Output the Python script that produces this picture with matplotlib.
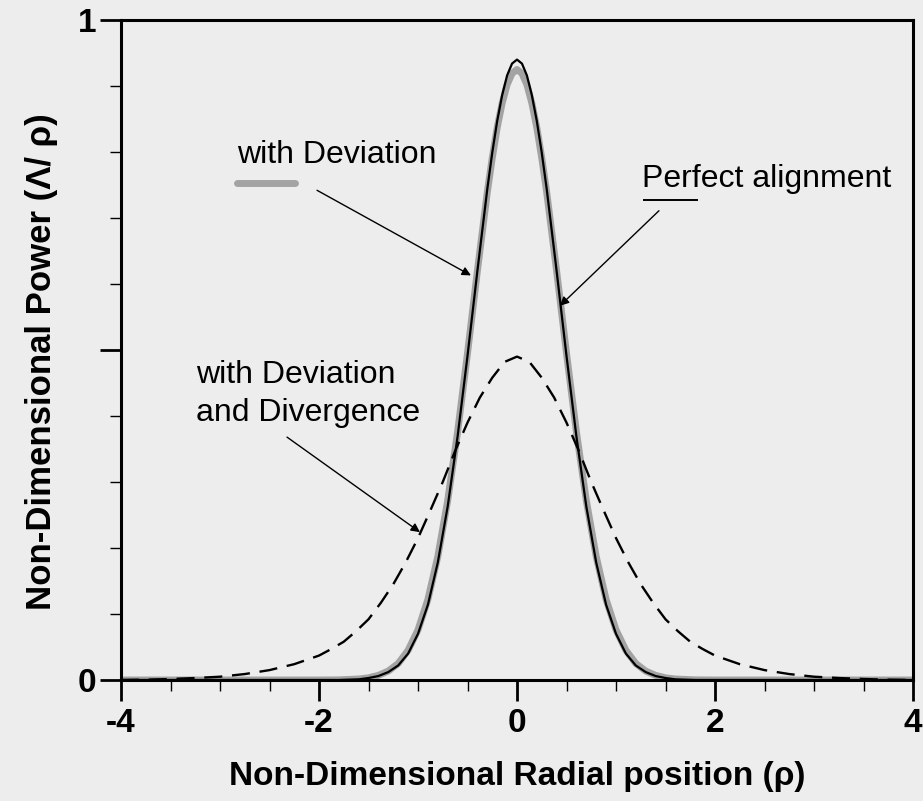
import numpy as np
import matplotlib
matplotlib.use("Agg")
import matplotlib.pyplot as plt
from matplotlib.ticker import MultipleLocator, FixedLocator
from matplotlib.lines import Line2D

plt.rcParams['font.family'] = ['Liberation Sans', 'DejaVu Sans']
plt.rcParams['lines.scale_dashes'] = False

# Half profiles (rho >= 0); the beams are symmetric about rho = 0
rho_half = [0.0, 0.05, 0.1, 0.15, 0.2, 0.25, 0.3, 0.4, 0.5, 0.6, 0.7,
            0.8, 0.9, 1.0, 1.1, 1.2, 1.3, 1.4, 1.5, 1.6, 1.8, 2.0, 3.0, 4.0]
perfect_half = [0.940, 0.934, 0.916, 0.886, 0.847, 0.799, 0.744, 0.620,
                0.491, 0.369, 0.263, 0.178, 0.114, 0.070, 0.040, 0.022,
                0.012, 0.006, 0.003, 0.001, 0.0, 0.0, 0.0, 0.0]
deviation_half = [0.925, 0.919, 0.902, 0.874, 0.837, 0.791, 0.739, 0.620,
                  0.495, 0.376, 0.272, 0.187, 0.122, 0.076, 0.045, 0.025,
                  0.0135, 0.007, 0.0033, 0.0015, 0.0002, 0.0, 0.0, 0.0]

rho_div_half = [0.0, 0.125, 0.25, 0.375, 0.5, 0.625, 0.75, 0.875, 1.0,
                1.125, 1.25, 1.375, 1.5, 1.625, 1.75, 1.875, 2.0, 2.25,
                2.5, 2.75, 3.0, 3.25, 3.5, 3.75, 4.0]
divergence_half = [0.490, 0.482, 0.458, 0.428, 0.390, 0.347, 0.300, 0.257,
                   0.215, 0.178, 0.145, 0.117, 0.092, 0.074, 0.058, 0.047,
                   0.037, 0.024, 0.015, 0.009, 0.005, 0.003, 0.0015,
                   0.0005, 0.0]

x_major = [-4, -2, 0, 2, 4]
x_labels = ['-4', '-2', '0', '2', '4']
y_major = [0, 0.5, 1]
y_labels = ['0', '', '1']


def mirror(xs, ys):
    xs = np.asarray(xs, float)
    ys = np.asarray(ys, float)
    return (np.concatenate([-xs[:0:-1], xs]),
            np.concatenate([ys[:0:-1], ys]))


rho_p, p_perfect = mirror(rho_half, perfect_half)
_, p_dev = mirror(rho_half, deviation_half)
rho_d, p_div = mirror(rho_div_half, divergence_half)

bg = '#ededed'
fig = plt.figure(figsize=(9.23, 8.01), dpi=100, facecolor=bg)
ax = fig.add_axes([121 / 923, 121 / 801, 792 / 923, 660 / 801], facecolor=bg)

ax.plot(rho_p, p_dev, color='#a3a3a3', lw=5.0, solid_capstyle='round',
        solid_joinstyle='round', zorder=2)
ax.plot(rho_p, p_perfect, color='black', lw=1.6, solid_joinstyle='round',
        zorder=3)
ax.plot(rho_d, p_div, color='black', lw=1.7, dashes=(13, 7), zorder=3)

ax.set_xlim(-4, 4)
ax.set_ylim(0, 1)

ax.xaxis.set_major_locator(FixedLocator(x_major))
ax.set_xticklabels(x_labels)
ax.xaxis.set_minor_locator(MultipleLocator(0.5))
ax.yaxis.set_major_locator(FixedLocator(y_major))
ax.set_yticklabels(y_labels)
ax.yaxis.set_minor_locator(MultipleLocator(0.1))

ax.tick_params(which='major', direction='out', length=15, width=2.0,
               labelsize=24, pad=3)
ax.tick_params(which='minor', direction='out', length=8, width=1.0)
ax.tick_params(axis='x', which='major', pad=5)
for lab in ax.get_xticklabels() + ax.get_yticklabels():
    lab.set_fontweight('bold')

for sp in ax.spines.values():
    sp.set_linewidth(2.2)

ax.set_xlabel('Non-Dimensional Radial position (ρ)', fontsize=24,
              fontweight='bold')
ax.xaxis.set_label_coords(0.5, -0.122)
ax.set_ylabel('Non-Dimensional Power (Λ/ ρ)', fontsize=25,
              fontweight='bold')
ax.yaxis.set_label_coords(-0.08, 0.482)

txt = dict(fontsize=23, color='black', va='baseline', ha='left')
arrow = dict(arrowstyle='-|>', lw=1.0, color='black', mutation_scale=13,
             shrinkA=0, shrinkB=0)

# with Deviation
ax.text(-2.828, 0.783, 'with Deviation', **txt)
ax.add_line(Line2D([0.1465, 0.2197], [0.753, 0.753], transform=ax.transAxes,
                   color='#a3a3a3', lw=5.0, solid_capstyle='round'))
ax.annotate('', xy=(-0.465, 0.613), xytext=(-2.02, 0.742), arrowprops=arrow)

# Perfect alignment
ax.text(1.263, 0.747, 'Perfect alignment', **txt)
ax.add_line(Line2D([0.6604, 0.7273], [0.727, 0.727], transform=ax.transAxes,
                   color='black', lw=1.4))
ax.annotate('', xy=(0.434, 0.567), xytext=(1.434, 0.711), arrowprops=arrow)

# with Deviation and Divergence
ax.text(-3.242, 0.450, 'with Deviation', **txt)
ax.text(-3.242, 0.392, 'and Divergence', **txt)
ax.annotate('', xy=(-0.98, 0.224), xytext=(-2.323, 0.368), arrowprops=arrow)

fig.savefig('out.png', dpi=100, facecolor=bg)
